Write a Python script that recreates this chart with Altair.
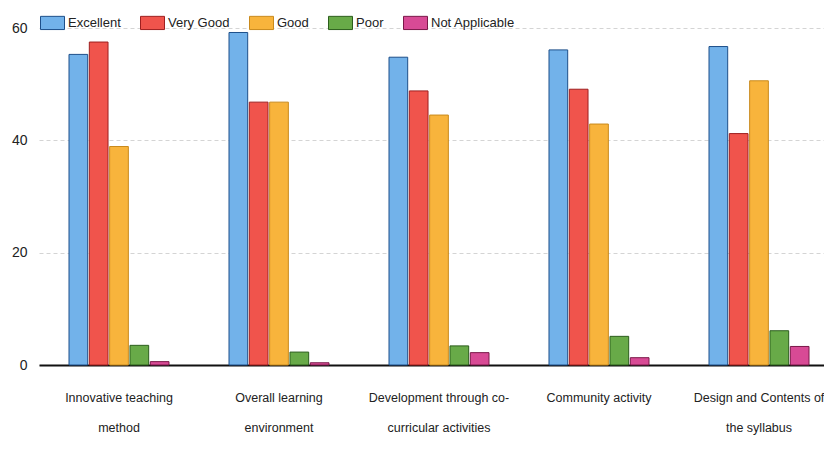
import altair as alt
import pandas as pd

categories = [
    "Innovative teaching method",
    "Overall learning environment",
    "Development through co-curricular activities",
    "Community activity",
    "Design and Contents of the syllabus",
]
label_lines = [
    ["Innovative teaching", "method"],
    ["Overall learning", "environment"],
    ["Development through co-", "curricular activities"],
    ["Community activity"],
    ["Design and Contents of", "the syllabus"],
]
series = ["Excellent", "Very Good", "Good", "Poor", "Not Applicable"]

excellent = [55.3, 59.2, 54.8, 56.1, 56.7]
very_good = [57.5, 46.8, 48.8, 49.1, 41.2]
good = [38.9, 46.8, 44.5, 42.9, 50.6]
poor = [3.5, 2.3, 3.4, 5.1, 6.1]
not_applicable = [0.6, 0.4, 2.2, 1.3, 3.3]

fill_colors = ["#72b2ea", "#f0544c", "#f8b43c", "#68aa48", "#d84a95"]
stroke_colors = ["#1d4f8a", "#9e1f1f", "#c98a1c", "#2c5e1c", "#7a1848"]

values = [excellent, very_good, good, poor, not_applicable]
rows = []
for s, vals in zip(series, values):
    for c, v in zip(categories, vals):
        rows.append({"category": c, "rating": s, "value": v})
df = pd.DataFrame(rows)

label_expr = ""
for c, lines in zip(categories, label_lines):
    arr = "[" + ",".join("'" + l + "'" for l in lines) + "]"
    label_expr += f"datum.label == '{c}' ? {arr} : "
label_expr += "datum.label"

FONT = "Liberation Sans, Arial, sans-serif"
FS = 12.5

chart = (
    alt.Chart(df)
    .mark_bar(strokeWidth=1)
    .encode(
        x=alt.X(
            "category:N",
            sort=categories,
            scale=alt.Scale(range=[-2, 798], paddingInner=0.375, paddingOuter=0.1875),
            axis=alt.Axis(
                title=None,
                labelAngle=0,
                ticks=False,
                domainColor="#111111",
                domainWidth=2,
                labelPadding=32,
                labelFont=FONT,
                labelFontSize=FS,
                labelColor="#222222",
                labelLineHeight=30,
                labelLimit=400,
                labelExpr=label_expr,
                labelBaseline="middle",
                grid=False,
            ),
        ),
        xOffset=alt.XOffset(
            "rating:N",
            sort=series,
            scale=alt.Scale(paddingInner=0.08, paddingOuter=0),
        ),
        y=alt.Y(
            "value:Q",
            scale=alt.Scale(domain=[0, 60], nice=False),
            axis=alt.Axis(
                title=None,
                values=[0, 20, 40, 60],
                domain=False,
                ticks=False,
                grid=True,
                gridColor="#d4d4d4",
                gridDash=[4, 3],
                labelPadding=14,
                labelFont=FONT,
                labelFontSize=14,
                labelColor="#222222",
            ),
        ),
        color=alt.Color(
            "rating:N",
            sort=series,
            scale=alt.Scale(domain=series, range=fill_colors),
            legend=alt.Legend(
                title=None,
                orient="none",
                direction="horizontal",
                legendX=-1,
                legendY=-18,
                symbolType="M-1,-0.55H1V0.55H-1Z",
                symbolSize=576,
                symbolStrokeWidth=1,
                symbolOpacity=1,
                labelFont=FONT,
                labelFontSize=13,
                labelColor="#222222",
                labelOffset=3,
                columnPadding=17,
            ),
        ),
        stroke=alt.Stroke(
            "rating:N",
            sort=series,
            scale=alt.Scale(domain=series, range=stroke_colors),
            legend=None,
        ),
    )
    .properties(
        width=783,
        height=337,
        autosize=alt.AutoSizeParams(type="none"),
        padding={"left": 33, "top": 20, "right": 0, "bottom": 90},
        background="white",
    )
    .configure_view(stroke=None)
)

chart.save("out.html", embed_options={"renderer": "svg", "actions": False})
